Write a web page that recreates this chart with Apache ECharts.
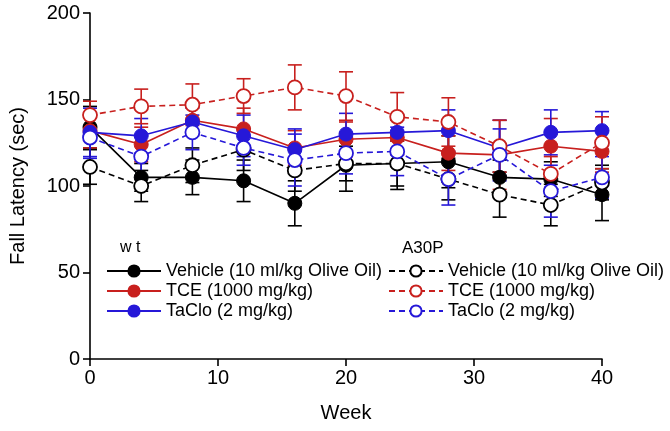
<!DOCTYPE html>
<html>
<head>
<meta charset="utf-8">
<script src="https://cdn.jsdelivr.net/npm/echarts@6/dist/echarts.min.js"></script>
<style>
html,body{margin:0;padding:0;background:#fff;}
#chart{width:670px;height:431px;}
</style>
</head>
<body>
<div id="chart"></div>
<script>
// ---- data ----
const weeks = [0, 4, 8, 12, 16, 20, 24, 28, 32, 36, 40];
const groupLabels = ['w t', 'A30P'];
const treatmentNames = ['Vehicle (10 ml/kg Olive Oil)', 'TCE (1000 mg/kg)', 'TaClo (2 mg/kg)'];

const wtVehicle     = [134, 105, 105, 103,  90, 112, 113, 114, 105, 104,  95];
const wtVehicleErr  = [ 12,   8,  10,  12,  13,  15,  15,  15,  10,  10,  15];
const wtTCE         = [132, 124, 138, 133, 122, 127, 128, 119, 118, 123, 120];
const wtTCEErr      = [ 10,  10,   8,  12,  10,  10,  10,  10,  20,  16,  12];
const wtTaClo       = [131, 129, 137, 129, 121, 130, 131, 132, 122, 131, 132];
const wtTaCloErr    = [ 14,  10,   8,  12,  12,  12,  10,  12,  16,  13,  11];

const a30Vehicle    = [111, 100, 112, 121, 109, 113, 113, 104,  95,  89, 102];
const a30VehicleErr = [ 10,   9,  10,  12,  12,  10,  13,  12,  13,  12,  10];
const a30TCE        = [141, 146, 147, 152, 157, 152, 140, 137, 123, 107, 125];
const a30TCEErr     = [  8,  10,  12,  10,  13,  14,  14,  14,  15,  10,  15];
const a30TaClo      = [128, 117, 131, 122, 115, 119, 120, 104, 118,  97, 105];
const a30TaCloErr   = [ 12,  12,  10,  10,  15,  12,  14,  15,  15,  15,  12];

const BLACK = '#000000', RED = '#c8201e', BLUE = '#2618d8';
const FONT = 'Liberation Sans, Arial, sans-serif';

const seriesDefs = [
  {name: 'wt ' + treatmentNames[0],   vals: wtVehicle,  err: wtVehicleErr,  color: BLACK, open: false},
  {name: 'wt ' + treatmentNames[1],   vals: wtTCE,      err: wtTCEErr,      color: RED,   open: false},
  {name: 'wt ' + treatmentNames[2],   vals: wtTaClo,    err: wtTaCloErr,    color: BLUE,  open: false},
  {name: 'A30P ' + treatmentNames[0], vals: a30Vehicle, err: a30VehicleErr, color: BLACK, open: true},
  {name: 'A30P ' + treatmentNames[1], vals: a30TCE,     err: a30TCEErr,     color: RED,   open: true},
  {name: 'A30P ' + treatmentNames[2], vals: a30TaClo,   err: a30TaCloErr,   color: BLUE,  open: true}
];

const series = [];
seriesDefs.forEach(function (d, i) {
  series.push({
    type: 'custom',
    name: d.name + ' err',
    silent: true,
    z: 1,
    data: weeks.map(function (w, k) { return [w, d.vals[k] - d.err[k], d.vals[k] + d.err[k]]; }),
    renderItem: function (params, api) {
      const lo = api.coord([api.value(0), api.value(1)]);
      const hi = api.coord([api.value(0), api.value(2)]);
      const hw = 7;
      const st = {stroke: d.color, lineWidth: 1.6};
      return {type: 'group', children: [
        {type: 'line', shape: {x1: lo[0], y1: lo[1], x2: hi[0], y2: hi[1]}, style: st},
        {type: 'line', shape: {x1: lo[0] - hw, y1: lo[1], x2: lo[0] + hw, y2: lo[1]}, style: st},
        {type: 'line', shape: {x1: hi[0] - hw, y1: hi[1], x2: hi[0] + hw, y2: hi[1]}, style: st}
      ]};
    }
  });
});
seriesDefs.forEach(function (d, i) {
  series.push({
    type: 'line',
    name: d.name,
    z: 3 + i,
    data: weeks.map(function (w, k) { return [w, d.vals[k]]; }),
    symbol: 'circle',
    symbolSize: 14,
    lineStyle: {color: d.color, width: 1.6, type: d.open ? [6, 4] : 'solid'},
    itemStyle: d.open ? {color: '#ffffff', borderColor: d.color, borderWidth: 1.8}
                      : {color: d.color, borderColor: d.color, borderWidth: 1},
    emphasis: {disabled: true},
    animation: false
  });
});

const legendText = {fontFamily: FONT, fontSize: 18, color: '#000'};
const option = {
  animation: false,
  backgroundColor: '#ffffff',
  grid: {left: 84, right: 68, top: 13, bottom: 72, containLabel: false},
  xAxis: {
    type: 'value', min: 0, max: 40, interval: 10,
    name: 'Week', nameLocation: 'middle', nameGap: 44,
    nameTextStyle: {fontFamily: FONT, fontSize: 20, color: '#000'},
    axisLine: {lineStyle: {color: '#000', width: 1.6}},
    axisTick: {show: true, length: 7, lineStyle: {color: '#000', width: 1.6}},
    axisLabel: {fontFamily: FONT, fontSize: 20, color: '#000', margin: 9},
    splitLine: {show: false}
  },
  yAxis: {
    type: 'value', min: 0, max: 200, interval: 50,
    name: 'Fall Latency (sec)', nameLocation: 'middle', nameGap: 62,
    nameTextStyle: {fontFamily: FONT, fontSize: 20, color: '#000'},
    axisLine: {show: true, lineStyle: {color: '#000', width: 1.6}},
    axisTick: {show: true, length: 7, lineStyle: {color: '#000', width: 1.6}},
    axisLabel: {fontFamily: FONT, fontSize: 20, color: '#000', margin: 10},
    splitLine: {show: false}
  },
  legend: [
    {
      data: seriesDefs.slice(0, 3).map(function (d) { return d.name; }),
      orient: 'vertical', left: 106, top: 262,
      itemWidth: 54, itemHeight: 14, itemGap: 2, padding: 0,
      textStyle: legendText,
      formatter: function (n) { return n.replace(/^(wt|A30P) /, ''); },
      selectedMode: false
    },
    {
      data: seriesDefs.slice(3).map(function (d) { return d.name; }),
      orient: 'vertical', left: 388, top: 262,
      itemWidth: 54, itemHeight: 14, itemGap: 2, padding: 0,
      textStyle: legendText,
      formatter: function (n) { return n.replace(/^(wt|A30P) /, ''); },
      selectedMode: false
    }
  ],
  graphic: [
    {type: 'text', left: 120, top: 240, style: {text: groupLabels[0], font: '16px ' + FONT, fill: '#000'}},
    {type: 'text', left: 402, top: 240, style: {text: groupLabels[1], font: '17px ' + FONT, fill: '#000'}}
  ],
  series: series
};

const chart = echarts.init(document.getElementById('chart'), null, {renderer: 'canvas'});
chart.setOption(option);
</script>
</body>
</html>
